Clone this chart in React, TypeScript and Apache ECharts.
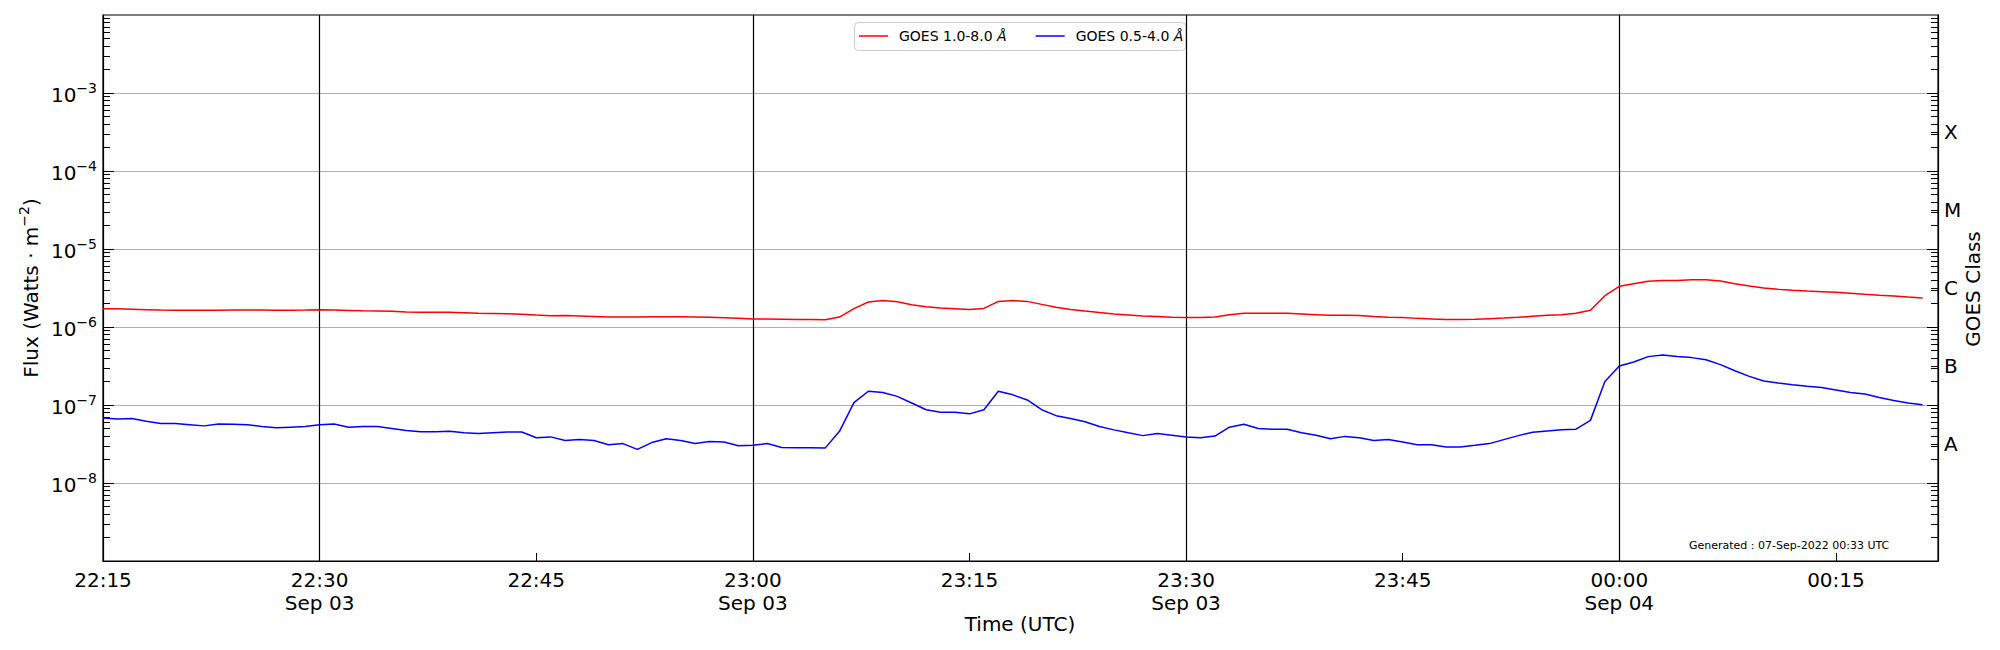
import React, { useEffect, useRef } from "react";
import * as echarts from "echarts";

const FONT = "DejaVu Sans";
const START = Date.UTC(2022, 8, 3, 22, 15, 0);
const MINUTE = 60000;
const X_MAX = START + 127 * MINUTE + 4000;

// GOES 1.0-8.0 Å flux, units of 1e-6 W/m^2, one value per minute from 22:15 UTC
const xrsLong = [
  1.72, 1.71, 1.69, 1.67, 1.65, 1.64, 1.64, 1.64, 1.64, 1.65, 1.65, 1.65, 1.64, 1.64, 1.65, 1.67,
  1.65, 1.63, 1.61, 1.6, 1.59, 1.56, 1.54, 1.54, 1.54, 1.52, 1.5, 1.49, 1.48, 1.46, 1.42, 1.39,
  1.4, 1.38, 1.36, 1.34, 1.34, 1.34, 1.35, 1.35, 1.35, 1.34, 1.33, 1.31, 1.29, 1.27, 1.27, 1.26,
  1.25, 1.25, 1.24, 1.34, 1.72, 2.09, 2.18, 2.11, 1.93, 1.82, 1.75, 1.72, 1.68, 1.73, 2.13, 2.18,
  2.13, 1.95, 1.79, 1.68, 1.6, 1.53, 1.47, 1.43, 1.38, 1.36, 1.33, 1.32, 1.32, 1.34, 1.44, 1.5,
  1.5, 1.5, 1.5, 1.47, 1.44, 1.41, 1.41, 1.4, 1.36, 1.33, 1.32, 1.29, 1.27, 1.25, 1.25,
  1.26, 1.28, 1.3, 1.33, 1.37, 1.41, 1.44, 1.5, 1.64, 2.52, 3.32, 3.59, 3.85, 3.96, 3.96, 4.02,
  4.04, 3.89, 3.59, 3.36, 3.16, 3.04, 2.95, 2.89, 2.84, 2.78, 2.7, 2.62, 2.55, 2.5, 2.42, 2.36,
];

// GOES 0.5-4.0 Å flux, units of 1e-8 W/m^2
const xrsShort = [
  6.8, 6.6, 6.7, 6.2, 5.8, 5.8, 5.6, 5.4, 5.7, 5.65, 5.6, 5.3, 5.1, 5.2, 5.3, 5.6,
  5.7, 5.2, 5.3, 5.3, 5.0, 4.7, 4.55, 4.55, 4.6, 4.4, 4.3, 4.4, 4.5, 4.5, 3.8, 3.9,
  3.5, 3.6, 3.5, 3.1, 3.2, 2.7, 3.3, 3.7, 3.5, 3.2, 3.4, 3.35, 3.0, 3.05, 3.2, 2.86,
  2.84, 2.84, 2.8, 4.6, 10.7, 15.0, 14.5, 12.9, 10.6, 8.7, 8.1, 8.1, 7.7, 8.7, 15.0, 13.5,
  11.6, 8.7, 7.3, 6.7, 6.1, 5.3, 4.8, 4.4, 4.05, 4.3, 4.1, 3.9, 3.8, 4.0, 5.2, 5.65,
  5.0, 4.9, 4.9, 4.4, 4.1, 3.7, 3.96, 3.8, 3.5, 3.6, 3.36, 3.1, 3.1, 2.9, 2.9,
  3.04, 3.2, 3.6, 4.05, 4.47, 4.65, 4.83, 4.9, 6.35, 20, 31.6, 35.6, 41.7, 43.8, 42, 40.5,
  38.1, 32.9, 27.5, 23.3, 20.3, 19.1, 18.2, 17.4, 16.8, 15.6, 14.5, 13.8, 12.5, 11.4, 10.6, 10.1,
];

const times = xrsLong.map((_, i) => START + i * MINUTE);

const seriesNames = ["GOES 1.0-8.0 Å", "GOES 0.5-4.0 Å"];
const seriesColors = ["#ff0000", "#0000ff"];

const decadeTicks = [1e-8, 1e-7, 1e-6, 1e-5, 1e-4, 1e-3];
const classLabels = ["A", "B", "C", "M", "X"];
const classCenters = [-7.5, -6.5, -5.5, -4.5, -3.5].map((e) => Math.pow(10, e));
const minorTicks: number[] = [];
for (let e = -9; e <= -3; e++) {
  for (let k = 2; k <= 9; k++) minorTicks.push(Number(`${k}e${e}`));
}
// 22:30, 23:00, 23:30, 00:00
const majorTimeLines = [15, 45, 75, 105].map((m) => START + m * MINUTE);

const pad = (n: number) => (n < 10 ? "0" + n : "" + n);

export default function App() {
  const ref = useRef<HTMLDivElement>(null);
  useEffect(() => {
    if (!ref.current) return;
    const chart = echarts.init(ref.current, null, { renderer: "svg" });
    const yBase = { type: "log" as const, logBase: 10, min: 1e-9, max: 1e-2 };
    const option: any = {
      animation: false,
      backgroundColor: "#ffffff",
      textStyle: { fontFamily: FONT },
      grid: {
        left: 103,
        right: 62,
        top: 15,
        bottom: 89,
        show: true,
        borderColor: "#000",
        borderWidth: 1.2,
        backgroundColor: "transparent",
        outerBoundsMode: "none",
      },
      legend: {
        left: 854,
        top: 22,
        z: 10,
        data: seriesNames.map((n, i) => ({
          name: n,
          icon: "path://M0 0 H29 V1.5 H0 Z",
          itemStyle: { color: seriesColors[i] },
        })),
        orient: "horizontal",
        itemWidth: 29,
        itemHeight: 14,
        itemGap: 29,
        symbolKeepAspect: true,
        padding: [7, 5, 7, 5],
        borderWidth: 0,
        backgroundColor: "transparent",
        formatter: (name: string) => `{n|${name.slice(0, -1)}}{i|Å}`,
        textStyle: {
          fontFamily: FONT,
          fontSize: 14,
          color: "#000",
          rich: {
            n: { fontFamily: FONT, fontSize: 14, color: "#000", padding: [0, 0, 0, 6] },
            i: { fontFamily: FONT, fontSize: 14, color: "#000", fontStyle: "italic" },
          },
        },
      },
      xAxis: {
        type: "value",
        min: START,
        max: X_MAX,
        interval: 15 * MINUTE,
        axisLine: { show: true, lineStyle: { color: "#000", width: 1.2 } },
        axisTick: { show: true, inside: true, length: 8, lineStyle: { color: "#000", width: 1 } },
        splitLine: { show: false },
        axisLabel: {
          show: true,
          margin: 7,
          fontFamily: FONT,
          fontSize: 20,
          lineHeight: 23,
          color: "#000",
          showMaxLabel: false,
          formatter: (v: number) => {
            if ((v - START) % (15 * MINUTE) !== 0) return "";
            const d = new Date(v);
            const hm = pad(d.getUTCHours()) + ":" + pad(d.getUTCMinutes());
            if (d.getUTCMinutes() % 30 === 0) return hm + "\nSep " + pad(d.getUTCDate());
            return hm;
          },
        },
      },
      yAxis: [
        {
          ...yBase,
          position: "left",
          axisLine: { show: true, lineStyle: { color: "#000", width: 1.2 } },
          axisTick: { show: true, inside: true, length: 11, customValues: decadeTicks, lineStyle: { color: "#000", width: 1 } },
          splitLine: { show: true, lineStyle: { color: "#b0b0b0", width: 1 } },
          axisLabel: {
            show: true,
            margin: 6,
            customValues: decadeTicks,
            formatter: (v: number) => {
              const e = Math.round(Math.log10(v));
              return `{b|10}{s|−${-e}}`;
            },
            rich: {
              b: { fontFamily: FONT, fontSize: 20, color: "#000", lineHeight: 24, verticalAlign: "bottom" },
              s: { fontFamily: FONT, fontSize: 14, color: "#000", lineHeight: 14, verticalAlign: "top" },
            },
          },
        },
        {
          ...yBase,
          position: "right",
          axisLine: { show: true, lineStyle: { color: "#000", width: 1.2 } },
          axisTick: { show: true, inside: true, length: 11, customValues: decadeTicks, lineStyle: { color: "#000", width: 1 } },
          splitLine: { show: false },
          axisLabel: {
            show: true,
            margin: 6,
            customValues: classCenters,
            fontFamily: FONT,
            fontSize: 20,
            color: "#000",
            formatter: (v: number) => {
              const idx = Math.round(Math.log10(v) + 7.5);
              return classLabels[idx] ?? "";
            },
          },
        },
        {
          ...yBase,
          position: "left",
          axisLine: { show: false },
          axisTick: { show: true, inside: true, length: 7, customValues: minorTicks, lineStyle: { color: "#000", width: 1 } },
          splitLine: { show: false },
          axisLabel: { show: false },
        },
        {
          ...yBase,
          position: "right",
          axisLine: { show: false },
          axisTick: {
            show: true,
            inside: true,
            length: 7,
            customValues: minorTicks.concat(classCenters),
            lineStyle: { color: "#000", width: 1 },
          },
          splitLine: { show: false },
          axisLabel: { show: false },
        },
      ],
      series: [
        {
          type: "line",
          name: seriesNames[0],
          yAxisIndex: 0,
          data: times.map((t, i) => [t, xrsLong[i] * 1e-6]),
          symbol: "none",
          showSymbol: false,
          color: seriesColors[0],
          lineStyle: { color: seriesColors[0], width: 1.5 },
          z: 3,
          markLine: {
            silent: true,
            symbol: "none",
            label: { show: false },
            lineStyle: { color: "#000", width: 1.2, type: "solid", opacity: 1 },
            data: majorTimeLines.map((t) => ({ xAxis: t })),
            z: 2,
          },
        },
        {
          type: "line",
          name: seriesNames[1],
          yAxisIndex: 0,
          data: times.map((t, i) => [t, xrsShort[i] * 1e-8]),
          symbol: "none",
          showSymbol: false,
          color: seriesColors[1],
          lineStyle: { color: seriesColors[1], width: 1.5 },
          z: 3,
        },
      ],
      graphic: [
        {
          type: "rect",
          z: 8,
          shape: { x: 854.5, y: 22.5, width: 331, height: 28, r: 4 },
          style: { fill: "rgba(255,255,255,0.8)", stroke: "#cccccc", lineWidth: 1 },
        },
        {
          type: "text",
          x: 29,
          y: 288,
          rotation: Math.PI / 2,
          style: {
            text: "{a|Flux (Watts · m}{s|−2}{a|)}",
            align: "center",
            verticalAlign: "middle",
            rich: {
              a: { fontFamily: FONT, fontSize: 20, fill: "#000", lineHeight: 24, verticalAlign: "bottom" },
              s: { fontFamily: FONT, fontSize: 14, fill: "#000", lineHeight: 14, verticalAlign: "top" },
            },
          },
        },
        {
          type: "text",
          x: 1973,
          y: 289,
          rotation: Math.PI / 2,
          style: {
            text: "GOES Class",
            fontFamily: FONT,
            fontSize: 20,
            fill: "#000",
            align: "center",
            verticalAlign: "middle",
          },
        },
        {
          type: "text",
          x: 1020,
          y: 624,
          style: {
            text: "Time (UTC)",
            fontFamily: FONT,
            fontSize: 20,
            fill: "#000",
            align: "center",
            verticalAlign: "middle",
          },
        },
        {
          type: "text",
          x: 1689,
          y: 545,
          style: {
            text: "Generated : 07-Sep-2022 00:33 UTC",
            fontFamily: FONT,
            fontSize: 11,
            fill: "#000",
            align: "left",
            verticalAlign: "middle",
          },
        },
      ],
    };
    chart.setOption(option);
    return () => chart.dispose();
  }, []);
  return (
    <div
      ref={ref}
      style={{ position: "fixed", left: 0, top: 0, width: 2000, height: 650, background: "#fff" }}
    />
  );
}
